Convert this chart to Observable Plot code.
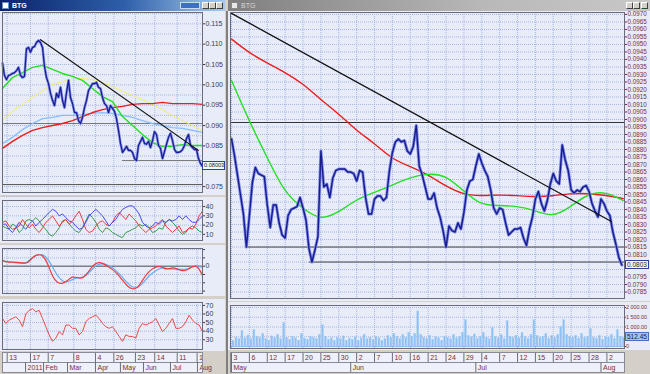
<!DOCTYPE html>
<html><head><meta charset="utf-8">
<script src="https://cdn.jsdelivr.net/npm/d3@7"></script>
<script src="https://cdn.jsdelivr.net/npm/@observablehq/plot@0.6"></script>
<style>
body{margin:0;background:#d4d0c8;}
#root{position:relative;width:650px;height:374px;overflow:hidden;background:#d4d0c8;font-family:'Liberation Sans',Arial,sans-serif;}
.tb{position:absolute;height:11px;font-size:7px;line-height:11px;color:#fff;font-weight:bold;}
.btn{position:absolute;top:2px;width:7px;height:7px;background:#d4d0c8;border:1px solid #fff;border-right-color:#404040;border-bottom-color:#404040;box-sizing:border-box;}
.vbox{position:absolute;font-size:6.5px;line-height:7px;height:9px;padding:0 1px;box-sizing:border-box;border:1px solid #2b3fa8;background:#f4f6ff;color:#222;white-space:nowrap;}
</style></head>
<body><div id="root"></div>
<script>
// ---------------- DATA ----------------
// Left window: daily, trading-day index 0..166.7 (Dec 2010 .. Aug 2011)
const leftSpan = 166.7;
const leftClose = [
0.1053,0.1023,0.1013,0.1023,0.1025,0.1028,0.1030,0.1035,0.1043,0.1023,
0.1018,0.1021,0.1089,0.1092,0.1080,0.1092,0.1094,0.1104,0.1109,0.1104,
0.1092,0.1045,0.1018,0.1003,0.0979,0.0962,0.0949,0.0979,0.0969,0.0994,
0.0962,0.0944,0.0981,0.1011,0.0969,0.0954,0.0932,0.0932,0.0912,0.0905,
0.0920,0.0944,0.0962,0.0986,0.0994,0.1003,0.1003,0.1006,0.0994,0.0991,
0.0969,0.0954,0.0949,0.0932,0.0949,0.0942,0.0935,0.0917,0.0888,0.0856,
0.0834,0.0841,0.0849,0.0839,0.0839,0.0834,0.0819,0.0814,0.0851,0.0861,
0.0871,0.0856,0.0854,0.0861,0.0846,0.0863,0.0885,0.0878,0.0851,0.0844,
0.0819,0.0836,0.0854,0.0871,0.0881,0.0863,0.0841,0.0834,0.0834,0.0836,
0.0841,0.0851,0.0868,0.0878,0.0851,0.0846,0.0841,0.0841,0.0819,0.0807,
0.0800];
const leftMaGreen = [0.0991,0.1018,0.1030,0.1043,0.1048,0.1038,0.1028,0.1021,0.1011,0.0991,0.0971,0.0959,0.0922,0.0900,0.0878,0.0858,0.0849,0.0849,0.0853,0.0851,0.0851];
const leftMaYellow = [0.0912,0.0935,0.0952,0.0969,0.0986,0.1001,0.1008,0.1013,0.1016,0.1013,0.1006,0.0996,0.0984,0.0974,0.0964,0.0952,0.0939,0.0925,0.0912,0.0900,0.0888];
const leftMaBlue = [0.0856,0.0871,0.0890,0.0905,0.0917,0.0920,0.0925,0.0925,0.0927,0.0930,0.0932,0.0930,0.0925,0.0920,0.0912,0.0905,0.0900,0.0895,0.0893,0.0888,0.0883];
const leftMaRed = [0.0844,0.0861,0.0876,0.0888,0.0895,0.0900,0.0905,0.0912,0.0922,0.0932,0.0939,0.0944,0.0947,0.0952,0.0954,0.0954,0.0957,0.0954,0.0954,0.0954,0.0952];
const leftTrend = [{d: 31.7, p: 0.1111}, {d: 163.3, p: 0.0839}];
const leftLevels = [0.0905];
const leftFloor = [0.0755];
const leftSupport = [{d1: 100, d2: 166.7, p: 0.0814}];
const leftPriceTicks = [0.075,0.080,0.085,0.090,0.095,0.100,0.105,0.110,0.115];
const leftLast = "0.08003";
// Directional movement (+DI blue, -DI red, ADX green)
const dmiBlue = [21,21,15.5,12,17,23,19,15.5,21,24.5,19,23,26,30,33.5,37,35,30,32,28,24.5,23,19,15.5,17,23,30,33.5,37,33.5,30,24.5,19,23,26,32,37,39,40.7,40.7,37,32,23,19,17,19,23,21,24.5,23,26,24.5,26,30,26,30,26,23,23,26,30];
const dmiRed = [23,24.5,19,15.5,17,19,26,21,17,21,15.5,12,17,23,26,30,24.5,19,23,26,21,24.5,30,35,26,15.5,12,13.5,19,23,24.5,21,19,23,30,33.5,30,26,32,28,24.5,19,15.5,12,15.5,17,19,23,26,19,15.5,12,15.5,19,12,13.5,17,15.5,21,30,35];
const dmiGreen = [19,17,15.5,21,19,12,15.5,24.5,26,24.5,28,24.5,19,15.5,10,8,12,17,24.5,26,21,17,13.5,12,17,24.5,32,28,23,15.5,12,17,15.5,12,10,8,6.5,12,13.5,15.5,17,21,19,21,17,12,13.5,17,15.5,23,26,23,19,13.5,10,12,17,19,17,13.5,12];
const dmiTicks = [10,20,30,40];
// MACD (x0.001)
const macdRed = [0.68,0.48,0.48,0.48,0.4,0.3,1.1,1.42,1.37,0.45,-1.33,-2.05,-2.1,-1.75,-1.2,-1.4,-1.5,-0.85,0.05,0.5,0.38,0,-0.4,-0.9,-1.7,-2.45,-2.8,-2.65,-1.7,-0.8,-0.3,0.05,-0.15,-0.45,-0.1,-0.35,-0.6,-0.45,0,0.08,-1.12];
const macdBlue = [0.68,0.48,0.48,0.4,0.3,0.45,1.05,1.4,1.45,1.0,-0.1,-1.2,-1.85,-1.9,-1.6,-1.38,-1.4,-1.0,-0.3,0.2,0.33,0.15,-0.15,-0.7,-1.35,-2.05,-2.55,-2.6,-2.15,-1.35,-0.8,-0.4,-0.15,-0.3,-0.36,-0.35,-0.4,-0.35,-0.05,0.05,-0.15];
const macdTicks = [-3,-2,-1,0,1,2];
// RSI
const rsi = [54.8,49,52.9,54.8,56.7,52.9,45.2,60,64.3,66.2,62.4,64.3,54.8,45.2,35.7,28.1,31.9,39.5,35.7,47.1,47.1,43.3,43.3,35.7,39.5,51,54.8,56.7,58.6,54.8,49,45.2,43.3,45.2,39.5,33.8,28.1,35.7,33.8,33.8,31.9,43.3,49,47.1,49,51,54.8,47.1,39.5,43.3,49,54.8,43.3,43.3,45.2,51,58.6,52.9,49,47.1,39.5];
const rsiTicks = [30,40,50,60,70];
// left date axis (trading-day index)
const leftDayTicks = [3.9,23.3,38.1,59.4,77.5,92.8,110.8,126.9,145.6,162.2];
const leftDayLabels = ["13","17","7","8","4","26","23","14","11","1"];
const leftMonthTicks = [19.2,34.2,54.2,77.5,98.3,117.5,140,162.5];
const leftMonthLabels = ["2011","Feb","Mar","Apr","May","Jun","Jul","Aug"];

// Right window: intraday, bar index (2 bars per trading day), May 3 .. Aug 3 2011
const rightClose = [
0.0887,0.0876,0.0863,0.0850,0.0837,0.0815,0.0836,0.0858,0.0868,0.0864,
0.0863,0.0862,0.0843,0.0828,0.0843,0.0843,0.0831,0.0823,0.0821,0.0836,
0.0840,0.0841,0.0842,0.0848,0.0841,0.0833,0.0814,0.0805,0.0813,0.0822,
0.0879,0.0855,0.0857,0.0848,0.0861,0.0866,0.0867,0.0867,0.0867,0.0865,
0.0865,0.0864,0.0859,0.0866,0.0865,0.0848,0.0837,0.0837,0.0847,0.0849,
0.0849,0.0846,0.0848,0.0866,0.0878,0.0885,0.0887,0.0885,0.0886,0.0879,
0.0877,0.0882,0.0896,0.0869,0.0863,0.0855,0.0847,0.0847,0.0851,0.0841,
0.0835,0.0826,0.0815,0.0829,0.0826,0.0825,0.0831,0.0827,0.0838,0.0853,
0.0859,0.0860,0.0869,0.0877,0.0871,0.0866,0.0862,0.0853,0.0841,0.0837,
0.0841,0.0840,0.0831,0.0823,0.0825,0.0827,0.0827,0.0828,0.0821,0.0816,
0.0827,0.0835,0.0847,0.0852,0.0844,0.0839,0.0846,0.0857,0.0864,0.0859,
0.0857,0.0883,0.0873,0.0866,0.0853,0.0851,0.0853,0.0852,0.0855,0.0856,
0.0852,0.0844,0.0839,0.0835,0.0847,0.0844,0.0839,0.0836,0.0825,0.0817,
0.0808,0.0803];
const rightMaRed = [0.09536,0.09443,0.09377,0.09315,0.0924,0.09133,0.0904,0.08927,0.08844,0.08737,0.08688,0.08635,0.08557,0.0850,0.08491,0.08498,0.08493,0.08485,0.0849,0.08507,0.08507,0.08495,0.08473];
const rightMaGreen = [0.0926,0.08987,0.08747,0.08507,0.08407,0.08327,0.0838,0.08467,0.08513,0.0856,0.08613,0.0864,0.08633,0.08527,0.08427,0.08427,0.08423,0.08397,0.08347,0.08413,0.08507,0.0852,0.0846];
const rightVolume = [300,450,380,800,420,560,380,850,500,420,650,380,300,520,450,600,380,1200,450,350,500,420,300,650,400,350,500,450,380,600,1100,500,350,420,300,450,380,520,300,400,350,480,300,420,600,380,450,350,500,420,300,380,550,450,650,500,400,600,450,700,500,650,1800,600,450,400,550,350,480,420,300,500,450,380,600,420,500,700,1350,550,480,620,400,500,700,450,380,950,500,420,600,380,1300,500,450,550,420,700,500,400,600,1350,550,450,500,650,400,550,450,600,1000,1350,600,500,450,550,400,650,450,500,900,450,400,550,350,500,450,600,400,850,500,450];
const rightTrend = [{b: 0, p: 0.09707}, {b: 127.5, p: 0.0832}];
const rightLevels = [0.0898];
const rightSupport = [{b1: 4.7, b2: 131.9, p: 0.0815}, {b1: 26.2, b2: 131.9, p: 0.0805}];
const rightPriceTicks = d3.range(785, 971, 5).map(v => v / 10000);
const rightVolTicks = [0,500,1000,1500,2000];
const rightLast = "0.0803";
const rightVolLastValue = 512.45;
const rightVolLast = "512.45";
const rightCellTicks = [0,6,12,18,24,30,36,42,48,54,60,66,72,78,84,90,96,102,108,114,120,126];
const rightDayLabels = ["3","6","12","17","20","25","30","2","7","10","16","21","24","29","4","7","12","15","20","25","28","2"];
const rightMonthTicks = [0,40,82,124];
const rightMonthLabels = ["May","Jun","Jul","Aug"];

// ---------------- STYLE / HELPERS ----------------
const FONT = "'Liberation Sans', Arial, sans-serif";
const BG = "#e7ecf8";
const GRID = "#a7b5e4";
const FRAME = "#6a6a7a";
const LBL_L = "#3a3a55";
const LBL_R = "#7d2e2e";
const root = document.getElementById("root");
const put = (node, left, top) => { node.style.position = "absolute"; node.style.left = left + "px"; node.style.top = top + "px"; root.appendChild(node); return node; };
const div = (cls, left, top, css, text) => { const d = document.createElement("div"); d.className = cls; d.style.cssText = css || ""; if (text) d.textContent = text; return put(d, left, top); };
const series = (arr, span) => arr.map((v, i) => ({x: i * span / (arr.length - 1), v}));
const baseStyle = {background: BG, fontFamily: FONT, overflow: "visible"};
const ax = (ticks, fmt, color, extra) => Plot.axisY(ticks, Object.assign({anchor: "right", label: null, tickSize: 2, tickPadding: 1, tickFormat: fmt, color, fontSize: 7}, extra || {}));
// labels hidden behind a value box are not drawn (as in the reference)
const notNear = (ticks, v, tol) => ticks.filter(t => Math.abs(t - v) > tol);

// ---------------- WINDOW CHROME ----------------
div("tb", 0, 0, "width:225px;background:linear-gradient(90deg,#0a246a,#2d5fa8 55%,#a6caf0);");
div("tb", 12, 0, "", "BTG");
div("", 2, 2, "width:7px;height:7px;background:#fff;border:1px solid #6b8cc7;box-sizing:border-box;");
div("", 180, 2, "width:20px;height:7px;background:#3b6fc8;border:1px solid #c8d8f0;box-sizing:border-box;");
[202, 209, 216].forEach(x => div("btn", x, 2, ""));
div("tb", 228, 0, "width:422px;background:linear-gradient(90deg,#7f7f7f,#b8b8b8 60%,#c8c8c8);");
div("", 231, 2, "width:7px;height:7px;background:#e8e8e8;border:1px solid #888;box-sizing:border-box;");
div("tb", 241, 0, "color:#d8d8d8;font-weight:normal;", "BTG");
[626, 633, 641].forEach(x => div("btn", x, 2, ""));
div("", 226, 11, "width:2px;height:363px;background:#808080;");

// ---------------- LEFT MAIN ----------------
const lx = {domain: [0, leftSpan], axis: null};
const leftLastValue = leftClose[leftClose.length - 1];
const leftMain = Plot.plot({
  width: 225, height: 184, marginLeft: 2, marginRight: 23, marginTop: 1, marginBottom: 3,
  style: baseStyle, x: lx, y: {domain: [0.07355, 0.11778], axis: null},
  marks: [
    Plot.gridY(d3.range(0.0725, 0.1176, 0.0025), {stroke: GRID, strokeOpacity: 1, strokeDasharray: "1,1"}),
    Plot.gridX(leftDayTicks, {stroke: GRID, strokeOpacity: 1, strokeDasharray: "1,1"}),
    Plot.ruleY(leftLevels, {stroke: "#777"}),
    Plot.ruleY(leftFloor, {stroke: "#555"}),
    Plot.ruleY(leftSupport, {y: "p", x1: "d1", x2: "d2", stroke: "#777"}),
    Plot.line(series(leftMaYellow, leftSpan), {x: "x", y: "v", stroke: "#f2ee6a", strokeWidth: 1}),
    Plot.line(series(leftMaBlue, leftSpan), {x: "x", y: "v", stroke: "#86beff", strokeWidth: 1.3}),
    Plot.line(series(leftMaRed, leftSpan), {x: "x", y: "v", stroke: "#ee1c1c", strokeWidth: 1.4}),
    Plot.line(series(leftMaGreen, leftSpan), {x: "x", y: "v", stroke: "#1fe01f", strokeWidth: 1.4}),
    Plot.line(series(leftClose, leftSpan), {x: "x", y: "v", stroke: "#7a8ae6", strokeWidth: 2.6}),
    Plot.line(series(leftClose, leftSpan), {x: "x", y: "v", stroke: "#1b1b90", strokeWidth: 1.2}),
    Plot.line(leftTrend, {x: "d", y: "p", stroke: "#111", strokeWidth: 1.2}),
    Plot.frame({stroke: FRAME}),
    ax(notNear(leftPriceTicks, leftLastValue, 0.0012), d3.format(".3f"), LBL_L)
  ]
});
put(leftMain, 0, 11);
{
  const y = leftMain.scale("y").apply(leftLastValue);
  div("vbox", 202, 11 + y - 4.5, "width:23px;font-size:5.6px;padding:0 0 0 1px;", leftLast);
}

// ---------------- LEFT DMI ----------------
put(Plot.plot({
  width: 225, height: 46, marginLeft: 2, marginRight: 23, marginTop: 3, marginBottom: 3,
  style: baseStyle, x: lx, y: {domain: [3.4, 46.5], axis: null},
  marks: [
    Plot.gridY(dmiTicks, {stroke: GRID, strokeOpacity: 1, strokeDasharray: "1,1"}),
    Plot.gridX(leftDayTicks, {stroke: GRID, strokeOpacity: 1, strokeDasharray: "1,1"}),
    Plot.line(series(dmiGreen, leftSpan), {x: "x", y: "v", stroke: "#3a9a4a", strokeWidth: 1}),
    Plot.line(series(dmiRed, leftSpan), {x: "x", y: "v", stroke: "#ee3b3b", strokeWidth: 1}),
    Plot.line(series(dmiBlue, leftSpan), {x: "x", y: "v", stroke: "#4a4af0", strokeWidth: 1}),
    Plot.frame({stroke: FRAME}),
    ax(dmiTicks, d => String(d), LBL_L)
  ]
}), 0, 197);

// ---------------- LEFT MACD ----------------
put(Plot.plot({
  width: 225, height: 51, marginLeft: 2, marginRight: 23, marginTop: 3, marginBottom: 3,
  style: baseStyle, x: lx, y: {domain: [-3.29, 2.13], axis: null},
  marks: [
    Plot.gridY(macdTicks, {stroke: GRID, strokeOpacity: 1, strokeDasharray: "1,1"}),
    Plot.gridX(leftDayTicks, {stroke: GRID, strokeOpacity: 1, strokeDasharray: "1,1"}),
    Plot.ruleY([0], {stroke: "#555"}),
    Plot.line(series(macdBlue, leftSpan), {x: "x", y: "v", stroke: "#62aef5", strokeWidth: 1.2, curve: "basis"}),
    Plot.line(series(macdRed, leftSpan), {x: "x", y: "v", stroke: "#ee3b3b", strokeWidth: 1.2, curve: "basis"}),
    Plot.frame({stroke: FRAME}),
    ax(macdTicks, d => d === 0 ? "0" : "", LBL_L)
  ]
}), 0, 245);

// ---------------- LEFT RSI ----------------
put(Plot.plot({
  width: 225, height: 52, marginLeft: 2, marginRight: 23, marginTop: 3, marginBottom: 2,
  style: baseStyle, x: lx, y: {domain: [18.6, 73.4], axis: null},
  marks: [
    Plot.gridY(rsiTicks, {stroke: GRID, strokeOpacity: 1, strokeDasharray: "1,1"}),
    Plot.gridX(leftDayTicks, {stroke: GRID, strokeOpacity: 1, strokeDasharray: "1,1"}),
    Plot.line(series(rsi, leftSpan), {x: "x", y: "v", stroke: "#ee4a4a", strokeWidth: 1}),
    Plot.frame({stroke: FRAME}),
    ax(rsiTicks, d => String(d), LBL_L)
  ]
}), 0, 299);

// ---------------- DATE AXES ----------------
function dateAxis(width, mr, xdom, dayT, dayL, monT, monL) {
  const days = dayT.map((t, i) => ({t, label: dayL[i]}));
  const mons = monT.map((t, i) => ({t, label: monL[i]}));
  return Plot.plot({
    width, height: 22, marginLeft: 2, marginRight: mr, marginTop: 1, marginBottom: 1,
    style: {background: "transparent", fontFamily: FONT, overflow: "visible"},
    x: {domain: xdom, axis: null}, y: {domain: [0, 2], axis: null},
    marks: [
      Plot.rectY([{a: xdom[0], b: xdom[1]}], {x1: "a", x2: "b", y1: 0, y2: 2, fill: "#eef1fa"}),
      Plot.ruleY([0, 1, 2], {stroke: "#8a8a96"}),
      Plot.ruleX(days, {x: "t", y1: 1, y2: 2, stroke: "#6d6d78"}),
      Plot.ruleX(mons, {x: "t", y1: 0, y2: 1, stroke: "#6d6d78"}),
      Plot.text(days, {x: "t", y: 1.5, text: "label", dx: 2, textAnchor: "start", fill: LBL_R, fontSize: 7}),
      Plot.text(mons, {x: "t", y: 0.5, text: "label", dx: 2, textAnchor: "start", fill: LBL_R, fontSize: 7}),
      Plot.frame({stroke: "#8a8a96"})
    ]
  });
}
put(dateAxis(225, 23, [0, leftSpan], leftDayTicks, leftDayLabels, leftMonthTicks, leftMonthLabels), 0, 351);

// ---------------- RIGHT MAIN ----------------
const rxDom = [-0.34, 131.9];
const rBars = rightClose.map((p, b) => ({b, p}));
const rightLastValue = rightClose[rightClose.length - 1];
const rightMain = Plot.plot({
  width: 422, height: 290, marginLeft: 2, marginRight: 26, marginTop: 1, marginBottom: 3,
  style: baseStyle, x: {domain: rxDom, axis: null}, y: {domain: [0.07807, 0.09713], axis: null},
  marks: [
    Plot.gridY(rightPriceTicks, {stroke: GRID, strokeOpacity: 1, strokeDasharray: "1,1"}),
    Plot.gridX(rightCellTicks, {stroke: GRID, strokeOpacity: 1, strokeDasharray: "1,1"}),
    Plot.ruleY(rightLevels, {stroke: "#333", strokeWidth: 1.2}),
    Plot.ruleY(rightSupport, {y: "p", x1: "b1", x2: "b2", stroke: "#444", strokeWidth: 1}),
    Plot.line(series(rightMaRed, 131.5), {x: "x", y: "v", stroke: "#ee1c1c", strokeWidth: 1.4, curve: "basis"}),
    Plot.line(series(rightMaGreen, 131.5), {x: "x", y: "v", stroke: "#22e022", strokeWidth: 1.4, curve: "basis"}),
    Plot.line(rBars, {x: "b", y: "p", stroke: "#7a8ae6", strokeWidth: 3}),
    Plot.line(rBars, {x: "b", y: "p", stroke: "#1b1b90", strokeWidth: 1.4}),
    Plot.line(rightTrend, {x: "b", y: "p", stroke: "#111", strokeWidth: 1.3}),
    Plot.frame({stroke: FRAME}),
    ax(notNear(rightPriceTicks, rightLastValue, 0.0004), d3.format(".4f"), LBL_R, {fontSize: 6.3})
  ]
});
put(rightMain, 228, 11);
{
  const y = rightMain.scale("y").apply(rightLastValue);
  div("vbox", 625, 11 + y - 4.5, "width:24px;", rightLast);
}

// ---------------- RIGHT VOLUME ----------------
const volFmt = d => d === 0 ? "0" : d3.format(",.2f")(d).replace(",", " ");
const rightVol = Plot.plot({
  width: 422, height: 48, marginLeft: 2, marginRight: 26, marginTop: 3, marginBottom: 2,
  style: baseStyle, x: {domain: rxDom, axis: null}, y: {domain: [-103, 2103], axis: null},
  marks: [
    Plot.gridY([500, 1000, 1500, 2000], {stroke: GRID, strokeOpacity: 1, strokeDasharray: "1,1"}),
    Plot.gridX(rightCellTicks, {stroke: GRID, strokeOpacity: 1, strokeDasharray: "1,1"}),
    Plot.rectY(rightVolume.map((v, b) => ({b, v})), {x: "b", interval: 1, y: "v", fill: "#8fc0f2", stroke: "#a9cff5", strokeWidth: 0.4}),
    Plot.ruleY([0], {stroke: "#8fc0f2"}),
    Plot.frame({stroke: FRAME}),
    ax(notNear(rightVolTicks, rightVolLastValue, 200), volFmt, LBL_R, {fontSize: 5.4, tickSize: 1, tickPadding: 0.5})
  ]
});
put(rightVol, 228, 302);
{
  const y = rightVol.scale("y").apply(rightVolLastValue);
  div("vbox", 625, 302 + y - 4.5, "width:24px;background:#9cc6f2;border-color:#4a6fc0;", rightVolLast);
}

put(dateAxis(422, 26, rxDom, rightCellTicks, rightDayLabels, rightMonthTicks, rightMonthLabels), 228, 351);
</script>
</body></html>
